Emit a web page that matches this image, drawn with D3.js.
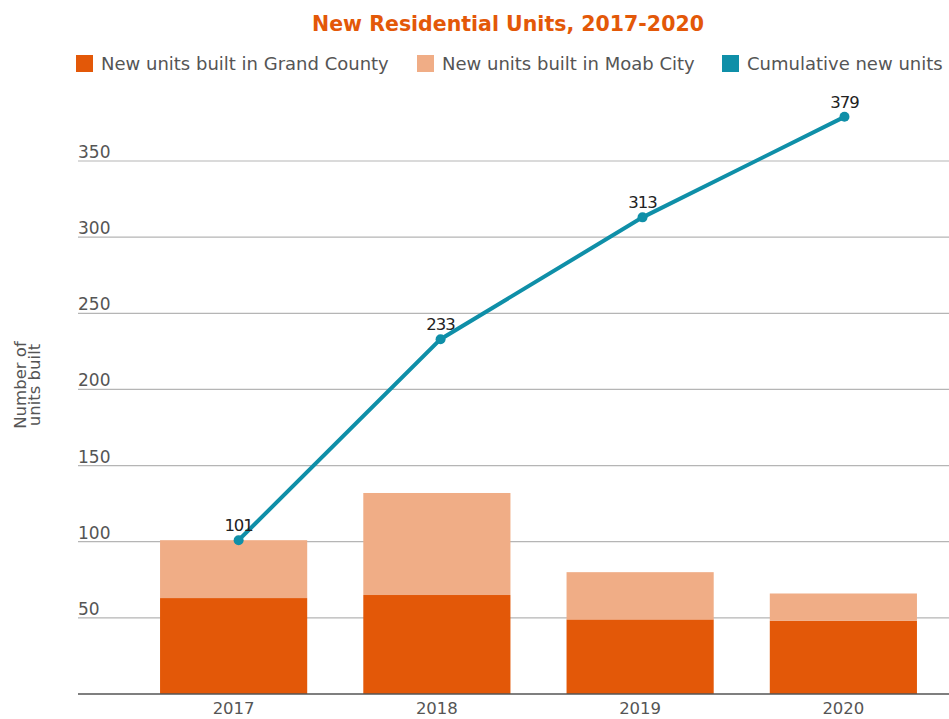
<!DOCTYPE html>
<html>
<head>
<meta charset="utf-8">
<script src="https://cdn.jsdelivr.net/npm/d3@7"></script>
<style>
  html, body { margin: 0; padding: 0; background: #fff; }
  svg { display: block; font-family: "DejaVu Sans", "Noto Sans", sans-serif; }
</style>
</head>
<body>
<svg id="chart" width="949" height="719"></svg>
<script>
// Data
const years = ["2017", "2018", "2019", "2020"];
const grandCounty = [63, 65, 49, 48];
const moabCity = [38, 67, 31, 18];
const cumulative = [101, 233, 313, 379];
const yTicks = [50, 100, 150, 200, 250, 300, 350];
const seriesNames = ["New units built in Grand County", "New units built in Moab City", "Cumulative new units"];
const colors = ["#e35808", "#f0ad86", "#0f8fa8"];

const svg = d3.select("#chart");

const x = d3.scaleBand().domain(years).range([132, 945]).paddingInner(0.276).paddingOuter(0.138);
const y = d3.scaleLinear().domain([0, 350]).range([694, 161]);

// Title
svg.append("text")
  .attr("x", 508).attr("y", 31)
  .attr("text-anchor", "middle")
  .attr("fill", "#e35808")
  .attr("font-weight", 700)
  .attr("font-size", 20.5)
  .text("New Residential Units, 2017-2020");

// Legend
const legendX = [76, 417, 722];
const legend = svg.append("g");
seriesNames.forEach((name, i) => {
  legend.append("rect")
    .attr("x", legendX[i]).attr("y", 55)
    .attr("width", 17).attr("height", 17)
    .attr("fill", colors[i]);
  legend.append("text")
    .attr("x", legendX[i] + 25).attr("y", 70)
    .attr("fill", "#555")
    .attr("font-size", 18)
    .text(name);
});

// Gridlines and tick labels
const grid = svg.append("g");
yTicks.forEach(t => {
  grid.append("line")
    .attr("x1", 78).attr("x2", 949)
    .attr("y1", y(t)).attr("y2", y(t))
    .attr("stroke", "#b5b5b5").attr("stroke-width", 1.2);
  grid.append("text")
    .attr("x", 78).attr("y", y(t) - 3)
    .attr("fill", "#555")
    .attr("font-size", 17)
    .text(t);
});

// Axis title
svg.append("text")
  .attr("transform", "translate(27,385) rotate(-90)")
  .attr("text-anchor", "middle")
  .attr("fill", "#555")
  .attr("font-size", 16.5)
  .selectAll("tspan")
  .data(["Number of", "units built"])
  .join("tspan")
  .attr("x", 0)
  .attr("dy", (d, i) => i === 0 ? -1.5 : 14)
  .text(d => d);

// Stacked bars
const stackData = years.map((yr, i) => ({ year: yr, grand: grandCounty[i], moab: moabCity[i] }));
const stacked = d3.stack().keys(["grand", "moab"])(stackData);
svg.append("g").selectAll("g")
  .data(stacked)
  .join("g")
  .attr("fill", (d, i) => colors[i])
  .selectAll("rect")
  .data(d => d)
  .join("rect")
  .attr("x", d => x(d.data.year))
  .attr("width", x.bandwidth())
  .attr("y", d => y(d[1]))
  .attr("height", d => y(d[0]) - y(d[1]));

// Baseline / x axis
const xAxis = d3.axisBottom(x).tickSize(0).tickPadding(8);
const xg = svg.append("g").attr("transform", `translate(0,${y(0)})`).call(xAxis);
xg.select(".domain").remove();
xg.append("line").attr("x1", 78).attr("x2", 949).attr("y1", 0).attr("y2", 0)
  .attr("stroke", "#555").attr("stroke-width", 1.5);
xg.selectAll(".tick text")
  .attr("fill", "#555")
  .attr("font-size", 16.5)
  .attr("font-family", "\"DejaVu Sans\", \"Noto Sans\", sans-serif");

// Cumulative line
const cx = (d, i) => x(years[i]) + x.bandwidth() / 2 + 5 - i * 1.3;
const line = d3.line().x((d, i) => cx(d, i)).y(d => y(d));
svg.append("path")
  .datum(cumulative)
  .attr("d", line)
  .attr("fill", "none")
  .attr("stroke", colors[2])
  .attr("stroke-width", 4);
svg.append("g").selectAll("circle")
  .data(cumulative)
  .join("circle")
  .attr("cx", (d, i) => cx(d, i))
  .attr("cy", d => y(d))
  .attr("r", 5)
  .attr("fill", colors[2]);
svg.append("g").selectAll("text")
  .data(cumulative)
  .join("text")
  .attr("x", (d, i) => cx(d, i))
  .attr("y", d => y(d) - 9)
  .attr("text-anchor", "middle")
  .attr("fill", "#222")
  .attr("font-size", 16.5)
  .attr("letter-spacing", -1)
  .text(d => d);
</script>
</body>
</html>
